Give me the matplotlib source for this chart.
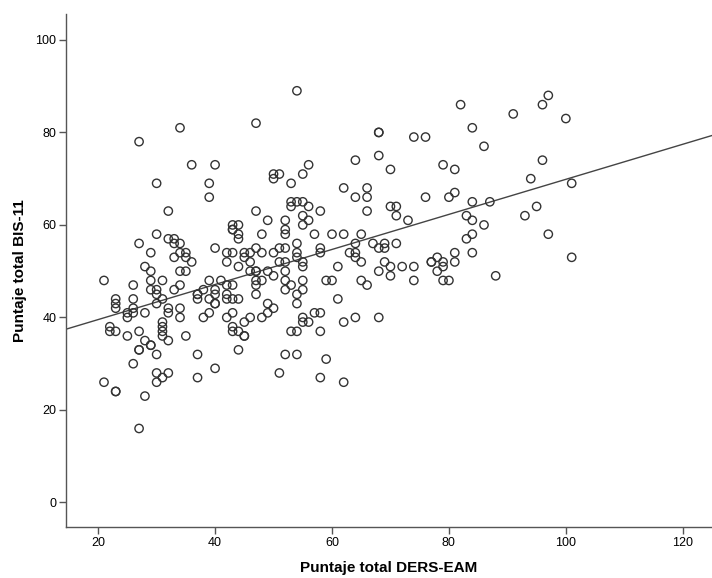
import numpy as np
import matplotlib
matplotlib.use("Agg")
import matplotlib.pyplot as plt
from matplotlib import font_manager

pts = [
(54,89),(97,88),(82,86),(96,86),(91,84),(100,83),(47,82),(34,81),(84,81),(68,80),(68,80),
(27,78),(74,79),(76,79),(86,77),(68,75),(64,74),(96,74),(36,73),(40,73),(56,73),(79,73),
(70,72),(81,72),(50,71),(51,71),(50,70),(55,71),(94,70),(30,69),(39,69),(53,69),(101,69),
(62,68),(66,68),(81,67),(39,66),(64,66),(66,66),(76,66),(80,66),(53,65),(54,65),(55,65),
(84,65),(87,65),(53,64),(56,64),(70,64),(71,64),(95,64),(32,63),(47,63),(58,63),(66,63),
(55,62),(71,62),(83,62),(93,62),(49,61),(52,61),(56,61),(73,61),(84,61),(43,60),(44,60),
(55,60),(86,60),(43,59),(43,59),(52,59),(52,58),(30,58),(44,58),(48,58),(57,58),(60,58),
(62,58),(65,58),(84,58),(97,58),(32,57),(33,57),(44,57),(83,57),(33,56),(34,56),(27,56),
(54,56),(64,56),(67,56),(69,56),(71,56),(40,55),(47,55),(51,55),(52,55),(58,55),(68,55),
(69,55),(29,54),(34,54),(35,54),(42,54),(43,54),(45,54),(46,54),(48,54),(50,54),(54,54),
(58,54),(63,54),(64,54),(81,54),(84,54),(33,53),(35,53),(45,53),(54,53),(64,53),(78,53),
(101,53),(36,52),(42,52),(46,52),(51,52),(52,52),(55,52),(65,52),(69,52),(77,52),(77,52),
(79,52),(81,52),(28,51),(44,51),(55,51),(61,51),(70,51),(72,51),(74,51),(79,51),(29,50),
(34,50),(35,50),(46,50),(47,50),(47,50),(49,50),(52,50),(68,50),(78,50),(50,49),(70,49),
(88,49),(21,48),(29,48),(31,48),(39,48),(41,48),(47,48),(48,48),(52,48),(55,48),(59,48),
(60,48),(65,48),(74,48),(79,48),(80,48),(26,47),(34,47),(42,47),(43,47),(47,47),(53,47),
(66,47),(29,46),(30,46),(33,46),(38,46),(40,46),(52,46),(55,46),(30,45),(37,45),(37,45),
(40,45),(42,45),(47,45),(54,45),(23,44),(26,44),(31,44),(37,44),(39,44),(42,44),(43,44),
(44,44),(61,44),(23,43),(30,43),(40,43),(40,43),(49,43),(54,43),(23,42),(26,42),(32,42),
(34,42),(50,42),(25,41),(26,41),(28,41),(32,41),(39,41),(43,41),(49,41),(57,41),(58,41),
(25,40),(34,40),(38,40),(42,40),(46,40),(48,40),(55,40),(64,40),(68,40),(31,39),(45,39),
(55,39),(56,39),(62,39),(22,38),(31,38),(43,38),(22,37),(23,37),(27,37),(31,37),(43,37),
(44,37),(53,37),(54,37),(58,37),(25,36),(31,36),(35,36),(45,36),(45,36),(28,35),(32,35),
(27,33),(27,33),(29,34),(29,34),(44,33),(26,30),(30,32),(37,32),(52,32),(54,32),(59,31),
(40,29),(30,28),(32,28),(51,28),(31,27),(37,27),(58,27),(21,26),(30,26),(62,26),(23,24),
(23,24),(28,23),(27,16),
]
ders = np.array([p[0] for p in pts], dtype=float)
bis = np.array([p[1] for p in pts], dtype=float)

xticks = [20, 40, 60, 80, 100, 120]
yticks = [0, 20, 40, 60, 80, 100]
xlabel = "Puntaje total DERS-EAM"
ylabel = "Puntaje total BIS-11"

names = {f.name for f in font_manager.fontManager.ttflist}
tickfont = "Liberation Sans Narrow" if "Liberation Sans Narrow" in names else "Liberation Sans"

fig = plt.figure(figsize=(7.12, 5.78), dpi=100)
ax = fig.add_axes([66/712, 51/578, 1 - 66/712, (527-14)/578])

ax.scatter(ders, bis, s=36, facecolors="none", edgecolors="#333333", linewidths=1.0, zorder=3)

slope, intercept = np.polyfit(ders, bis, 1)
xl = np.array([14.5, 126])
ax.plot(xl, intercept + slope * xl, color="#444444", linewidth=1.0, zorder=2)

ax.set_xlim(14.5, 125)
ax.set_ylim(-5.3, 105.6)
ax.set_xticks(xticks)
ax.set_yticks(yticks)
for s in ["top", "right"]:
    ax.spines[s].set_visible(False)
for s in ["left", "bottom"]:
    ax.spines[s].set_color("#555555")
    ax.spines[s].set_linewidth(1.0)
ax.tick_params(direction="out", length=5, width=1, color="#555555", labelsize=9, pad=2)
for lab in ax.get_xticklabels() + ax.get_yticklabels():
    lab.set_fontfamily(tickfont)
ax.set_xlabel(xlabel, fontsize=11, fontweight="bold", family="Liberation Sans", labelpad=9)
ax.set_ylabel(ylabel, fontsize=11, fontweight="bold", family="Liberation Sans", labelpad=6)
fig.savefig("out.png", dpi=100)
